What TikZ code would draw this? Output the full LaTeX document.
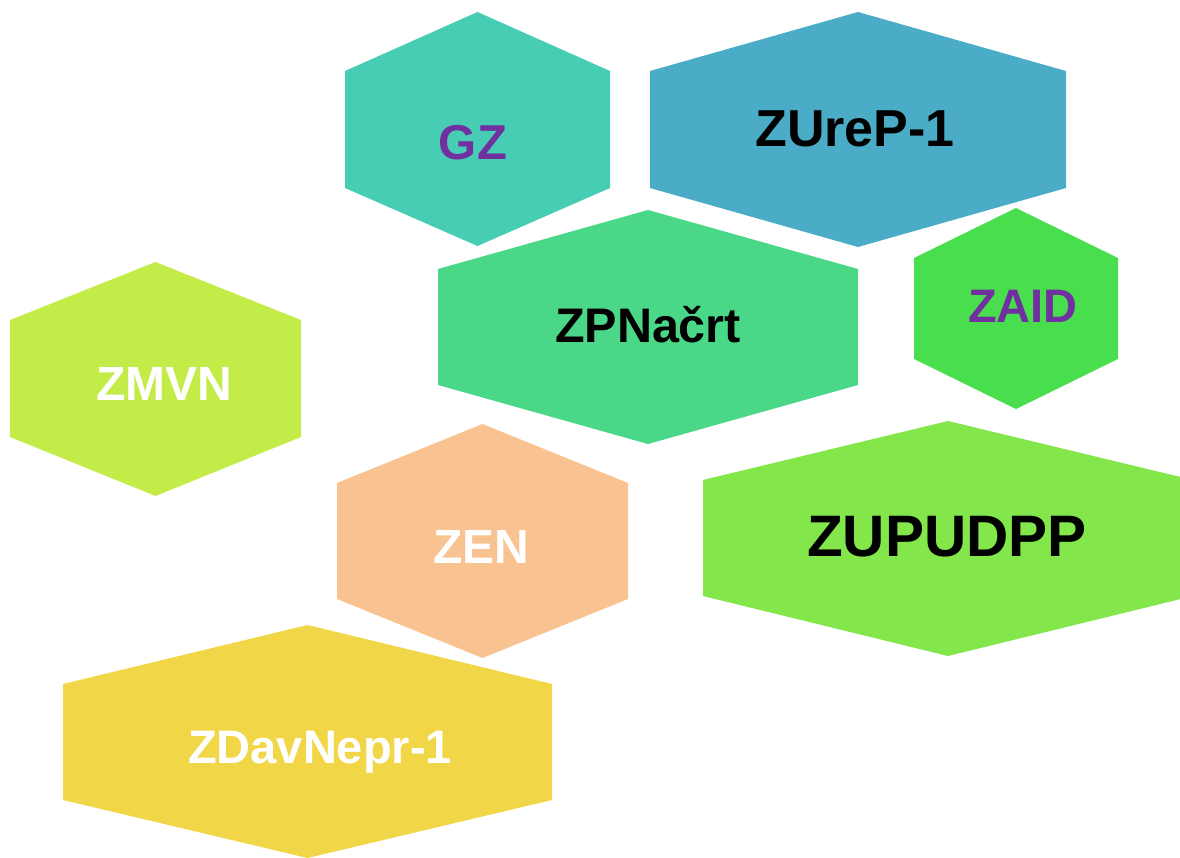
\documentclass[tikz,border=0pt]{standalone}
\usepackage{fontspec}
\setmainfont{Liberation Sans}

\definecolor{gzfill}{HTML}{48CDB5}
\definecolor{urepfill}{HTML}{4AACC6}
\definecolor{pnfill}{HTML}{4AD787}
\definecolor{aidfill}{HTML}{48DE4E}
\definecolor{mvnfill}{HTML}{C3EC48}
\definecolor{enfill}{HTML}{F9C291}
\definecolor{upfill}{HTML}{83E64A}
\definecolor{davfill}{HTML}{F1D748}
\definecolor{labpurple}{HTML}{7030A0}

% hexagon: centre x, half width, top, upper shoulder, lower shoulder, bottom, colour
\newcommand{\hexcell}[7]{%
  \fill[#7] (#1,-#3) -- (#1+#2,-#4) -- (#1+#2,-#5) -- (#1,-#6)
    -- (#1-#2,-#5) -- (#1-#2,-#4) -- cycle;}

\tikzset{
  hexlabel/.style={font=\bfseries, anchor=base, inner sep=0pt},
}

\begin{document}
\begin{tikzpicture}[x=1pt,y=1pt]
\clip (0,0) rectangle (1180,-858);
\useasboundingbox (0,0) rectangle (1180,-858);

\hexcell{477.5}{132.5}{12}{71}{188}{246}{gzfill}
\hexcell{858}{208}{12}{71}{188}{247}{urepfill}
\hexcell{648}{210}{210}{269}{385}{444}{pnfill}
\hexcell{1016}{102}{208}{258}{359}{409}{aidfill}
\hexcell{155.5}{145.5}{262}{320}{437}{496}{mvnfill}
\hexcell{482.5}{145.5}{424}{483}{599}{658}{enfill}
\hexcell{948}{245}{421}{480}{596}{656}{upfill}
\hexcell{307.5}{244.5}{625}{684}{800}{858}{davfill}

\node[hexlabel, text=labpurple, font=\fontsize{49}{49}\bfseries] (gz) at (473,-160) {GZ};
\node[hexlabel, text=black, font=\fontsize{52}{52}\bfseries] (urep) at (855,-146.7) {ZUreP-1};
\node[hexlabel, text=black, font=\fontsize{48.5}{48.5}\bfseries] (pnacrt) at (648,-342.7) {ZPNačrt};
\node[hexlabel, text=labpurple, font=\fontsize{47}{47}\bfseries] (aid) at (1023,-322.7) {ZAID};
\node[hexlabel, text=white, font=\fontsize{48}{48}\bfseries] (mvn) at (164,-400) {ZMVN};
\node[hexlabel, text=white, font=\fontsize{48}{48}\bfseries] (en) at (481,-563.3) {ZEN};
\node[hexlabel, text=black, font=\fontsize{58.5}{58.5}\bfseries] (upudpp) at (947,-556.7) {ZUPUDPP};
\node[hexlabel, text=white, font=\fontsize{47}{47}\bfseries] (davnepr) at (320,-763.3) {ZDavNepr-1};
\end{tikzpicture}
\end{document}
